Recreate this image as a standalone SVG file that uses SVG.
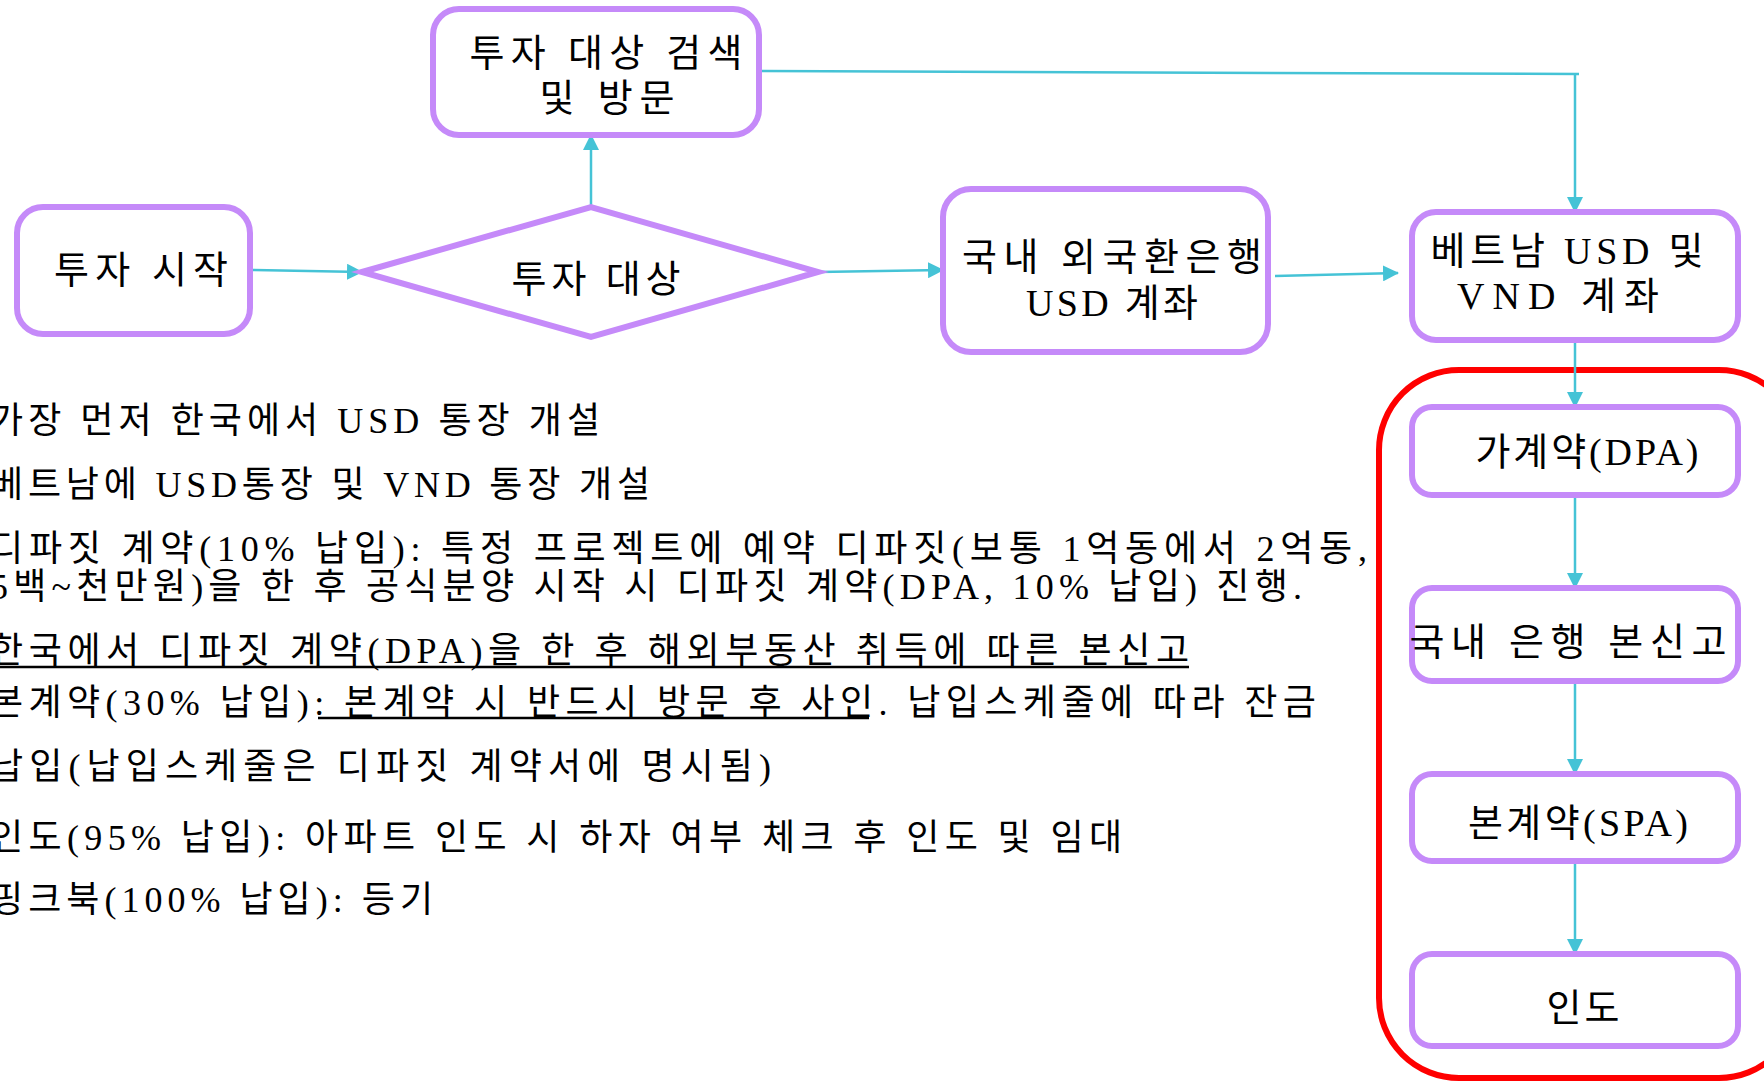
<svg xmlns="http://www.w3.org/2000/svg" width="1764" height="1081" viewBox="0 0 1764 1081">
<defs>
<style>
.node{fill:#ffffff;stroke:#c58af9;stroke-width:6}
.edge{fill:none;stroke:#45c3d6;stroke-width:2.5}
.t{font-family:"Liberation Serif","Noto Sans CJK KR",serif;font-size:38px;fill:#000000;text-anchor:middle}
.b{font-family:"Liberation Serif","Noto Sans CJK KR",serif;font-size:36px;fill:#000000}
.ul{stroke:#000000;stroke-width:2.5}
</style>
<marker id="arr" viewBox="0 0 16 16" refX="15" refY="8" markerWidth="16" markerHeight="16" markerUnits="userSpaceOnUse" orient="auto">
<path d="M0,0 L16,8 L0,16 Z" fill="#45c3d6"/>
</marker>
</defs>
<rect width="1764" height="1081" fill="#ffffff"/>

<g id="group-red">
<rect x="1379" y="370" width="420" height="708" rx="80" ry="80" fill="none" stroke="#ff0000" stroke-width="6"/>
</g>

<g id="connectors">
<path class="edge" d="M250,270 L362,272" marker-end="url(#arr)"/>
<path class="edge" d="M591,207 L591,135" marker-end="url(#arr)"/>
<path class="edge" d="M818,272 L943,270" marker-end="url(#arr)"/>
<path class="edge" d="M1275,276 L1398,273" marker-end="url(#arr)"/>
<path class="edge" d="M754,71 L1579,74"/>
<path class="edge" d="M1575,74 L1575,212" marker-end="url(#arr)"/>
<path class="edge" d="M1575,340 L1575,407" marker-end="url(#arr)"/>
<path class="edge" d="M1575,495 L1575,588" marker-end="url(#arr)"/>
<path class="edge" d="M1575,681 L1575,774" marker-end="url(#arr)"/>
<path class="edge" d="M1575,861 L1575,954" marker-end="url(#arr)"/>
</g>

<g id="node-search">
<rect class="node" x="433" y="9" width="326" height="126" rx="26" ry="26"/>
<text class="t" x="606" y="66" textLength="273" lengthAdjust="spacing">투자 대상 검색</text>
<text class="t" x="607" y="111" textLength="135" lengthAdjust="spacing">및 방문</text>
</g>

<g id="node-start">
<rect class="node" x="17" y="207" width="233" height="127" rx="26" ry="26"/>
<text class="t" x="141" y="283" textLength="174" lengthAdjust="spacing">투자 시작</text>
</g>

<g id="node-target">
<polygon class="node" points="362,272 591,207 818,272 591,337"/>
<text class="t" x="596" y="292" textLength="169" lengthAdjust="spacing">투자 대상</text>
</g>

<g id="node-korea-usd">
<rect class="node" x="943" y="189" width="325" height="163" rx="28" ry="28"/>
<text class="t" x="1112" y="270" textLength="300" lengthAdjust="spacing">국내 외국환은행</text>
<text class="t" x="1112" y="316" textLength="172" lengthAdjust="spacing">USD 계좌</text>
</g>

<g id="node-vietnam">
<rect class="node" x="1412" y="212" width="326" height="128" rx="24" ry="24"/>
<text class="t" x="1567" y="264" textLength="273" lengthAdjust="spacing">베트남 USD 및</text>
<text class="t" x="1558" y="309" textLength="202" lengthAdjust="spacing">VND 계좌</text>
</g>

<g id="node-dpa">
<rect class="node" x="1412" y="407" width="326" height="88" rx="20" ry="20"/>
<text class="t" x="1587" y="465" textLength="223" lengthAdjust="spacing">가계약(DPA)</text>
</g>

<g id="node-report">
<rect class="node" x="1412" y="588" width="326" height="93" rx="20" ry="20"/>
<text class="t" x="1568" y="655" textLength="317" lengthAdjust="spacing">국내 은행 본신고</text>
</g>

<g id="node-spa">
<rect class="node" x="1412" y="774" width="326" height="87" rx="20" ry="20"/>
<text class="t" x="1578" y="836" textLength="220" lengthAdjust="spacing">본계약(SPA)</text>
</g>

<g id="node-handover">
<rect class="node" x="1412" y="954" width="326" height="92" rx="20" ry="20"/>
<text class="t" x="1583" y="1021" textLength="73" lengthAdjust="spacing">인도</text>
</g>

<g id="notes">
<text class="b" x="-10" y="433" textLength="610" lengthAdjust="spacing">가장 먼저 한국에서 USD 통장 개설</text>
<text class="b" x="-10" y="497" textLength="660" lengthAdjust="spacing">베트남에 USD통장 및 VND 통장 개설</text>
<text class="b" x="-10" y="561" textLength="1377" lengthAdjust="spacing">디파짓 계약(10% 납입): 특정 프로젝트에 예약 디파짓(보통 1억동에서 2억동,</text>
<text class="b" x="-10" y="599" textLength="1312" lengthAdjust="spacing">5백~천만원)을 한 후 공식분양 시작 시 디파짓 계약(DPA, 10% 납입) 진행.</text>
<text class="b" x="-10" y="663" textLength="1199" lengthAdjust="spacing">한국에서 디파짓 계약(DPA)을 한 후 해외부동산 취득에 따른 본신고</text>
<line class="ul" x1="0" y1="667" x2="1189" y2="667"/>
<text class="b" x="-10" y="715" textLength="1326" lengthAdjust="spacing">본계약(30% 납입): 본계약 시 반드시 방문 후 사인. 납입스케줄에 따라 잔금</text>
<line class="ul" x1="318" y1="718" x2="869" y2="718"/>
<text class="b" x="-10" y="779" textLength="781" lengthAdjust="spacing">납입(납입스케줄은 디파짓 계약서에 명시됨)</text>
<text class="b" x="-10" y="850" textLength="1132" lengthAdjust="spacing">인도(95% 납입): 아파트 인도 시 하자 여부 체크 후 인도 및 임대</text>
<text class="b" x="-10" y="912" textLength="443" lengthAdjust="spacing">핑크북(100% 납입): 등기</text>
</g>
</svg>
